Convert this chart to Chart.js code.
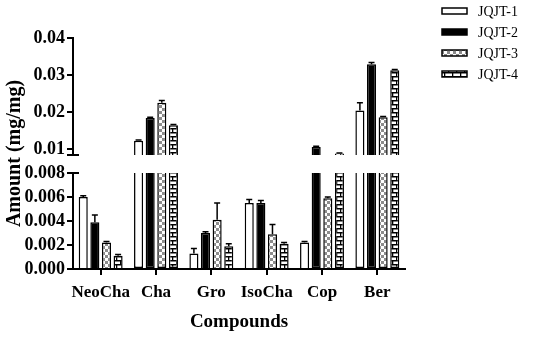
<!DOCTYPE html>
<html>
<head>
<meta charset="utf-8">
<script src="https://cdn.jsdelivr.net/npm/chart.js@4/dist/chart.umd.min.js"></script>
<style>
  html, body { margin: 0; padding: 0; background: #fff; }
  #wrap { width: 550px; height: 338px; position: relative; }
</style>
</head>
<body>
<div id="wrap"><canvas id="chart"></canvas></div>
<script>
// Data ----------------------------------------------------------------------->
const categories = ['NeoCha', 'Cha', 'Gro', 'IsoCha', 'Cop', 'Ber'];
const seriesNames = ['JQJT-1', 'JQJT-2', 'JQJT-3', 'JQJT-4'];

const jqjt1 = [0.0060, 0.0122, 0.0013, 0.0055, 0.0022, 0.0204];
const jqjt2 = [0.0039, 0.0184, 0.0030, 0.0055, 0.0105, 0.0329];
const jqjt3 = [0.0022, 0.0225, 0.0041, 0.0029, 0.0059, 0.0186];
const jqjt4 = [0.0011, 0.0164, 0.0019, 0.0021, 0.0088, 0.0313];

const jqjt1Err = [0.0001, 0.0002, 0.0004, 0.0003, 0.0001, 0.0021];
const jqjt2Err = [0.0006, 0.0002, 0.0001, 0.0002, 0.0002, 0.0005];
const jqjt3Err = [0.0001, 0.0006, 0.0014, 0.0008, 0.0001, 0.0002];
const jqjt4Err = [0.0001, 0.0002, 0.0002, 0.0001, 0.0001, 0.0002];

const lowerTicks = [0, 0.002, 0.004, 0.006, 0.008];
const upperTicks = [0.01, 0.02, 0.03, 0.04];

// Broken axis: lower part 0..0.008, upper part starts at the break
const LOW_MAX = 0.008;
const UP_BASE = 0.0084;   // value where the upper segment begins
const UP_MIN = 0.0035;    // upper scale also covers the gap
const UP_MAX = 0.04;

const values = [jqjt1, jqjt2, jqjt3, jqjt4];
const errors = [jqjt1Err, jqjt2Err, jqjt3Err, jqjt4Err];

// Fills ---------------------------------------------------------------------->
function checkerPattern() {
    const c = document.createElement('canvas');
    c.width = 6; c.height = 6;
    const g = c.getContext('2d');
    g.fillStyle = '#fff'; g.fillRect(0, 0, 6, 6);
    g.fillStyle = '#8c8c8c';
    g.fillRect(0, 0, 3, 3);
    g.fillRect(3, 3, 3, 3);
    return g.createPattern(c, 'repeat');
}
function brickPattern() {
    const c = document.createElement('canvas');
    c.width = 8; c.height = 8;
    const g = c.getContext('2d');
    g.fillStyle = '#fff'; g.fillRect(0, 0, 8, 8);
    g.fillStyle = '#000';
    g.fillRect(0, 0, 8, 1.5);
    g.fillRect(0, 4, 8, 1.5);
    g.fillRect(4, 0, 1.3, 4);
    g.fillRect(0, 4, 1.3, 4);
    return g.createPattern(c, 'repeat');
}
const fills = ['#ffffff', '#000000', checkerPattern(), brickPattern()];

const FONT = "'Liberation Serif', 'Times New Roman', serif";

// Datasets: every series is drawn once on each half of the broken axis
const datasets = [];
values.forEach((vals, i) => {
    datasets.push({
        label: seriesNames[i],
        data: vals.map(v => Math.min(v, LOW_MAX)),
        yAxisID: 'yLow',
        stack: 's' + i,
        backgroundColor: fills[i],
        borderColor: '#000',
        borderWidth: 1.5,
        borderSkipped: ctx => (vals[ctx.dataIndex] > LOW_MAX ? 'end' : 'start'),
        inflateAmount: 0
    });
});
values.forEach((vals, i) => {
    datasets.push({
        label: seriesNames[i] + ' (upper)',
        data: vals.map(v => (v > UP_BASE ? [UP_BASE, v] : null)),
        yAxisID: 'yHigh',
        stack: 's' + i,
        backgroundColor: fills[i],
        borderColor: '#000',
        borderWidth: 1.5,
        borderSkipped: 'start',
        inflateAmount: 0
    });
});

// Plugins -------------------------------------------------------------------->
const errorBars = {
    id: 'errorBars',
    afterDatasetsDraw(chart) {
        const ctx = chart.ctx;
        ctx.save();
        ctx.strokeStyle = '#000';
        ctx.lineWidth = 1.5;
        values.forEach((vals, i) => {
            vals.forEach((v, j) => {
                const upper = v > UP_BASE;
                const meta = chart.getDatasetMeta(upper ? i + 4 : i);
                const bar = meta.data[j];
                if (!bar) return;
                const scale = chart.scales[upper ? 'yHigh' : 'yLow'];
                const yTop = scale.getPixelForValue(v + errors[i][j]);
                const x = bar.x;
                ctx.beginPath();
                ctx.moveTo(x, bar.y);
                ctx.lineTo(x, yTop);
                ctx.moveTo(x - 3, yTop);
                ctx.lineTo(x + 3, yTop);
                ctx.stroke();
            });
        });
        ctx.restore();
    }
};

const brokenAxis = {
    id: 'brokenAxis',
    afterDraw(chart) {
        const ctx = chart.ctx;
        const hi = chart.scales.yHigh;
        const lo = chart.scales.yLow;
        const x = chart.chartArea.left;
        const yHiTop = hi.getPixelForValue(UP_MAX);
        const yHiBot = hi.getPixelForValue(UP_BASE);
        const yLoTop = lo.getPixelForValue(LOW_MAX);
        const yLoBot = lo.getPixelForValue(0);
        ctx.save();
        ctx.strokeStyle = '#000';
        ctx.lineWidth = 2;
        ctx.beginPath();
        ctx.moveTo(x, yHiTop - 1); ctx.lineTo(x, yHiBot);
        ctx.moveTo(x - 6, yHiBot); ctx.lineTo(x + 6, yHiBot);
        ctx.moveTo(x - 6, yLoTop); ctx.lineTo(x + 6, yLoTop);
        ctx.moveTo(x, yLoTop); ctx.lineTo(x, yLoBot + 1);
        ctx.stroke();

        // y axis title, centred on the whole broken axis
        ctx.fillStyle = '#000';
        ctx.font = "bold 20px " + FONT;
        ctx.textAlign = 'center';
        ctx.textBaseline = 'middle';
        ctx.translate(15, (yHiTop + yLoBot) / 2);
        ctx.rotate(-Math.PI / 2);
        ctx.fillText('Amount (mg/mg)', 0, 0);
        ctx.restore();
    }
};

const boxLegend = {
    id: 'boxLegend',
    afterDraw(chart) {
        const ctx = chart.ctx;
        ctx.save();
        seriesNames.forEach((name, i) => {
            const cy = 11 + i * 21;
            ctx.fillStyle = fills[i];
            ctx.fillRect(442, cy - 3, 25, 6);
            ctx.strokeStyle = '#000';
            ctx.lineWidth = 1.5;
            ctx.strokeRect(442, cy - 3, 25, 6);
            ctx.fillStyle = '#000';
            ctx.font = "14px " + FONT;
            ctx.textAlign = 'left';
            ctx.textBaseline = 'middle';
            ctx.fillText(name, 478, cy + 1);
        });
        ctx.restore();
    }
};

// Chart ---------------------------------------------------------------------->
const tickGrid = {
    display: true,
    drawOnChartArea: false,
    drawTicks: true,
    tickLength: 6,
    color: '#000',
    lineWidth: 2
};

const yTickFont = { family: FONT, size: 18, weight: 'bold' };

new Chart(document.getElementById('chart'), {
    type: 'bar',
    data: { labels: categories, datasets: datasets },
    options: {
        responsive: true,
        maintainAspectRatio: false,
        animation: false,
        barPercentage: 0.78,
        categoryPercentage: 0.84,
        layout: { padding: { top: 38, right: 145, left: 0, bottom: 0 } },
        plugins: {
            legend: { display: false },
            tooltip: { enabled: false }
        },
        scales: {
            x: {
                grid: Object.assign({}, tickGrid, { offset: false }),
                border: { display: true, color: '#000', width: 2 },
                ticks: {
                    color: '#000',
                    padding: 7,
                    maxRotation: 0,
                    autoSkip: false,
                    font: { family: FONT, size: 17, weight: 'bold' }
                },
                title: {
                    display: true,
                    text: 'Compounds',
                    color: '#000',
                    padding: { top: 4, bottom: 5 },
                    font: { family: FONT, size: 19, weight: 'bold' }
                },
                afterFit: s => { s.height = 69; }
            },
            yHigh: {
                type: 'linear',
                position: 'left',
                stack: 'amount',
                stackWeight: 135,
                weight: 2,
                stacked: false,
                min: UP_MIN,
                max: UP_MAX,
                grid: tickGrid,
                border: { display: false },
                ticks: {
                    color: '#000',
                    padding: 2,
                    autoSkip: false,
                    font: yTickFont,
                    callback: v => v.toFixed(2)
                },
                afterBuildTicks: s => { s.ticks = upperTicks.map(v => ({ value: v })); },
                afterFit: s => { s.width = 73; }
            },
            yLow: {
                type: 'linear',
                position: 'left',
                stack: 'amount',
                stackWeight: 96,
                weight: 1,
                stacked: false,
                min: 0,
                max: LOW_MAX,
                grid: tickGrid,
                border: { display: false },
                ticks: {
                    color: '#000',
                    padding: 2,
                    autoSkip: false,
                    font: yTickFont,
                    callback: v => v.toFixed(3)
                },
                afterBuildTicks: s => { s.ticks = lowerTicks.map(v => ({ value: v })); },
                afterFit: s => { s.width = 73; }
            }
        }
    },
    plugins: [errorBars, brokenAxis, boxLegend]
});
</script>
</body>
</html>
